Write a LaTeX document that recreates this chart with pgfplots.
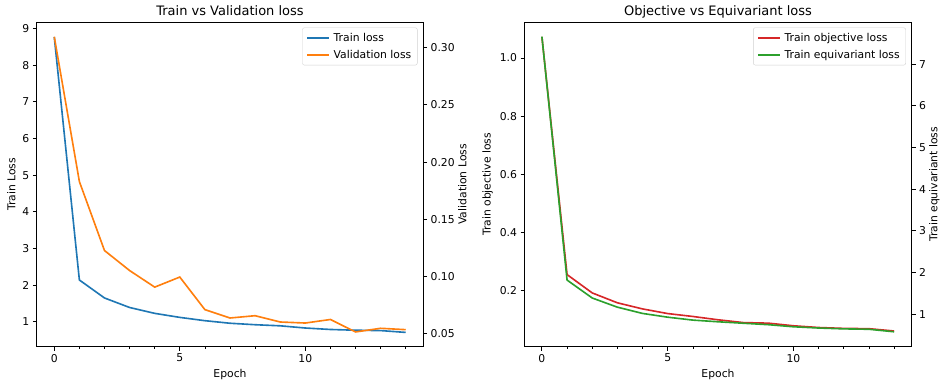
\documentclass[border=0pt]{standalone}
\usepackage{fontspec}
\setmainfont{DejaVu Sans}
\usepackage{pgfplots}
\pgfplotsset{compat=1.18}
\definecolor{tabblue}{HTML}{1F77B4}
\definecolor{taborange}{HTML}{FF7F0E}
\definecolor{tabred}{HTML}{D62728}
\definecolor{tabgreen}{HTML}{2CA02C}
\pgfplotsset{
  every axis title shift=0pt,
  base/.style={
    scale only axis, height=324.7pt,
    xmin=-0.7, xmax=14.7,
    axis line style={line width=0.86pt, black},
    every tick/.style={black, line width=0.86pt},
    every minor tick/.style={black, line width=0.65pt},
    major tick length=3.8pt, minor tick length=2.2pt,
    tick align=outside,
    tick label style={font=\fontsize{10.8}{13}\selectfont},
    label style={font=\fontsize{10.8}{13}\selectfont},
    title style={font=\fontsize{13}{15}\selectfont, at={(0.5,1)}, anchor=base, inner sep=0pt, yshift=6.5pt},
    /pgf/number format/assume math mode=true,
    legend cell align=left,
    legend image code/.code={\draw[#1] (0pt,0pt) -- (21.6pt,0pt);},
    legend style={at={(0.985,0.983)}, anchor=north east, draw=black!18, rounded corners=2pt,
      fill=white, fill opacity=0.8, text opacity=1, font=\fontsize{10.8}{13}\selectfont,
      inner xsep=4pt, inner ysep=3.5pt, row sep=3pt, column sep=2pt},
  },
  lside/.style={base, xtick={0,5,10}, minor xtick={1,2,3,4,6,7,8,9,11,12,13,14},
    xtick pos=bottom, ytick pos=left, xlabel={Epoch}},
  rside/.style={base, axis y line*=right, axis x line=none, ylabel shift=-3.5pt},
}
\pgfplotstableread{
e train val
0 8.77 0.3096
1 2.14 0.183
2 1.65 0.1227
3 1.39 0.1052
4 1.23 0.0907
5 1.12 0.0995
6 1.03 0.0710
7 0.96 0.0637
8 0.92 0.0657
9 0.89 0.0602
10 0.83 0.0593
11 0.79 0.0624
12 0.77 0.0515
13 0.76 0.0547
14 0.71 0.0535
}\lossA
\pgfplotstableread{
e obj equi
0 1.073 7.66
1 0.255 1.82
2 0.192 1.39
3 0.158 1.17
4 0.137 1.02
5 0.121 0.93
6 0.111 0.86
7 0.0996 0.82
8 0.090 0.785
9 0.088 0.75
10 0.079 0.70
11 0.073 0.67
12 0.070 0.65
13 0.069 0.64
14 0.061 0.58
}\lossB
\begin{document}
\begin{tikzpicture}[x=1pt,y=1pt]
\useasboundingbox (0,0) rectangle (941,384);
% Left panel
\begin{axis}[lside, width=386.6pt, at={(36.7pt,37.3pt)}, anchor=south west,
  ymin=0.32, ymax=9.18, ytick={1,...,9}, ylabel={Train Loss},
  title={Train vs Validation loss}]
\addplot[tabblue, line width=1.62pt] table[x=e,y=train] {\lossA};
\end{axis}
\begin{axis}[rside, width=386.6pt, at={(36.7pt,37.3pt)}, anchor=south west,
  ymin=0.0386, ymax=0.3225, ytick={0.05,0.10,0.15,0.20,0.25,0.30},
  yticklabel style={/pgf/number format/.cd, fixed, fixed zerofill, precision=2},
  ylabel={Validation Loss}]
\addlegendimage{legend image code/.code={\draw[tabblue, line width=1.62pt] (0pt,0pt) -- (21.6pt,0pt);}}
\addlegendentry{Train loss}
\addplot[taborange, line width=1.62pt] table[x=e,y=val] {\lossA};
\addlegendentry{Validation loss}
\end{axis}
% Right panel
\begin{axis}[lside, width=387.4pt, at={(524.3pt,37.3pt)}, anchor=south west,
  ymin=0.007, ymax=1.124, ytick={0.2,0.4,0.6,0.8,1.0},
  yticklabel style={/pgf/number format/.cd, fixed, fixed zerofill, precision=1},
  ylabel={Train objective loss},
  title={Objective vs Equivariant loss}]
\addplot[tabred, line width=1.62pt] table[x=e,y=obj] {\lossB};
\end{axis}
\begin{axis}[rside, width=387.4pt, at={(524.3pt,37.3pt)}, anchor=south west,
  ymin=0.222, ymax=8.01, ytick={1,...,7},
  ylabel={Train equivariant loss}]
\addlegendimage{legend image code/.code={\draw[tabred, line width=1.62pt] (0pt,0pt) -- (21.6pt,0pt);}}
\addlegendentry{Train objective loss}
\addplot[tabgreen, line width=1.62pt] table[x=e,y=equi] {\lossB};
\addlegendentry{Train equivariant loss}
\end{axis}
\end{tikzpicture}
\end{document}
